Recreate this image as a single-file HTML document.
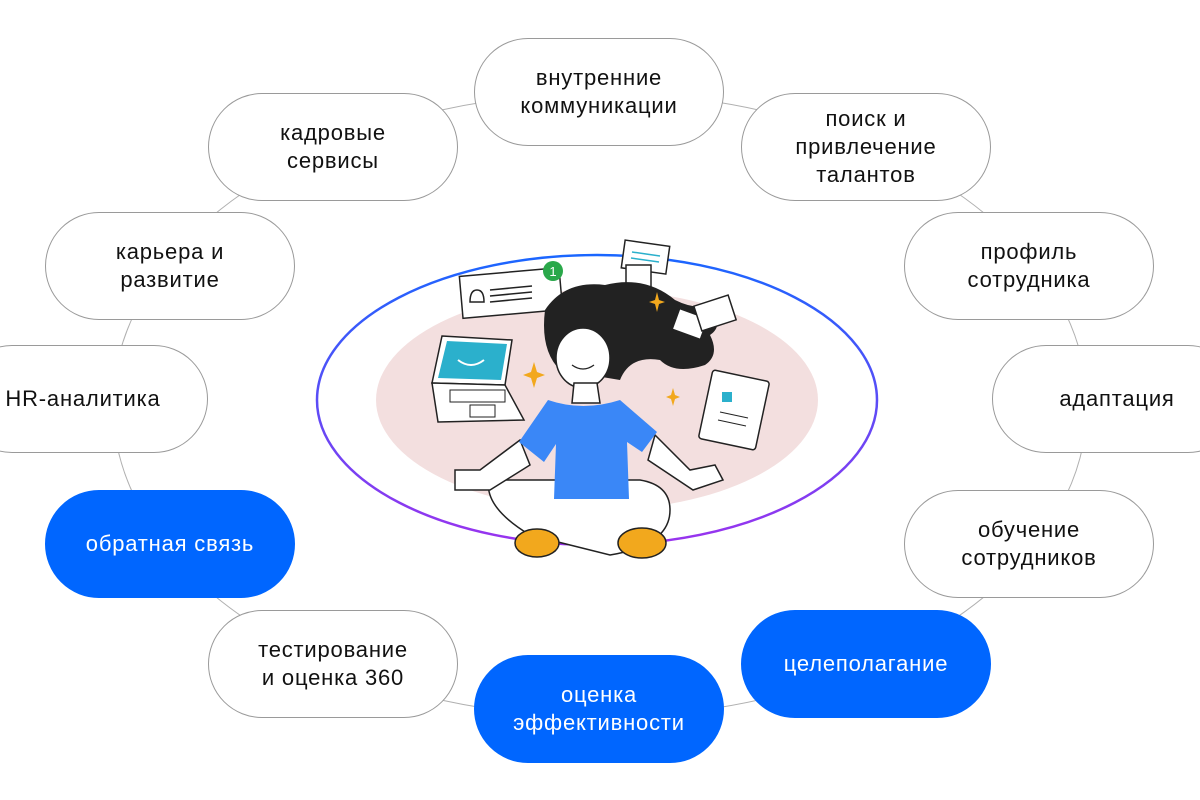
<!DOCTYPE html>
<html><head><meta charset="utf-8"><style>
body{margin:0;width:1200px;height:800px;background:#fff;position:relative;overflow:hidden;font-family:"Liberation Sans",sans-serif}
.p{position:absolute;width:248px;height:106px;border:1px solid #9a9a9a;border-radius:54px;background:#fff;display:flex;align-items:center;justify-content:center;text-align:center;font-size:22px;letter-spacing:0.8px;line-height:28px;color:#111;box-sizing:content-box}
.b{background:#0066ff;border-color:#0066ff;color:#fff}
svg{position:absolute;left:0;top:0}
</style></head><body>
<svg width="1200" height="800">
<defs><linearGradient id="g" x1="0" y1="0" x2="0" y2="1"><stop offset="0" stop-color="#1a66ff"/><stop offset="1" stop-color="#9a33ee"/></linearGradient></defs>
<ellipse cx="600" cy="405" rx="487" ry="312" fill="none" stroke="#b0b0b0" stroke-width="1"/>
<ellipse cx="597" cy="400" rx="280" ry="145" fill="#fff" stroke="url(#g)" stroke-width="2.5"/>
<ellipse cx="597" cy="400" rx="221" ry="110" fill="#f3dfdf"/>
<rect x="461" y="272" width="100" height="42" fill="#fff" stroke="#222" stroke-width="1.5" transform="rotate(-5 511 293)"/>
<line x1="490" y1="290" x2="532" y2="286" stroke="#222" stroke-width="1.5"/><line x1="490" y1="296" x2="532" y2="292" stroke="#222" stroke-width="1.5"/><line x1="490" y1="302" x2="532" y2="298" stroke="#222" stroke-width="1.5"/>
<path d="M470 302 q0-12 7-12 q7 0 7 12z" fill="none" stroke="#222" stroke-width="1.5"/>
<circle cx="553" cy="271" r="10" fill="#2aa84a"/><text x="553" y="276" fill="#fff" font-size="13" text-anchor="middle">1</text>
<rect x="623" y="243" width="45" height="28" fill="#fff" stroke="#222" stroke-width="1.5" transform="rotate(8 645 257)"/>
<line x1="632" y1="252" x2="660" y2="256" stroke="#2bb0cc" stroke-width="1.5"/><line x1="631" y1="258" x2="659" y2="262" stroke="#2bb0cc" stroke-width="1.5"/>
<rect x="626" y="265" width="25" height="25" fill="#fff" stroke="#222" stroke-width="1.5"/>
<path d="M442 336 L512 340 L505 385 L432 383z" fill="#fff" stroke="#222" stroke-width="1.5"/>
<path d="M447 341 L507 344 L501 380 L438 378z" fill="#2bb0cc"/>
<path d="M432 383 L505 385 L524 420 L438 422z" fill="#fff" stroke="#222" stroke-width="1.5"/>
<rect x="450" y="390" width="55" height="12" fill="none" stroke="#222"/><rect x="470" y="405" width="25" height="12" fill="none" stroke="#222"/>
<path d="M458 360 q13 10 26 0" fill="none" stroke="#fff" stroke-width="2"/>
<path d="M545 310 q20-30 60-25 q40-10 70 15 q20 10 35 5 q15 20 0 30 q10 20-5 30 q-30 10-45-5 q-30-5-40 20 l-60 -10 q-20 -20-15-60z" fill="#222"/>
<rect x="675" y="313" width="30" height="22" fill="#fff" stroke="#222" stroke-width="1.5" transform="rotate(20 690 324)"/>
<rect x="697" y="300" width="36" height="26" fill="#fff" stroke="#222" stroke-width="1.5" transform="rotate(-18 715 313)"/>
<ellipse cx="583" cy="358" rx="27" ry="30" fill="#fff" stroke="#222" stroke-width="1.5"/>
<path d="M572 365 q11 8 22 0" fill="none" stroke="#222" stroke-width="1.3"/>
<path d="M574 383 l-2 20 h28 l-3-20z" fill="#fff" stroke="#222" stroke-width="1.5"/>
<rect x="705" y="375" width="58" height="70" rx="3" fill="#fff" stroke="#222" stroke-width="1.5" transform="rotate(12 734 410)"/>
<rect x="722" y="392" width="10" height="10" fill="#2bb0cc"/>
<line x1="720" y1="412" x2="748" y2="418" stroke="#222"/><line x1="718" y1="420" x2="746" y2="426" stroke="#222"/>
<path d="M490 475 q-10 30 40 60 l80 20 q60 -10 60-45 q0-25-30-30 l-140 0z" fill="#fff" stroke="#222" stroke-width="1.5"/>
<path d="M520 440 l-40 30 l-25 0 l0 20 l35 0 l40-25z" fill="#fff" stroke="#222" stroke-width="1.5"/>
<path d="M655 435 l35 35 l25 -5 l8 15 l-30 10 l-45-30z" fill="#fff" stroke="#222" stroke-width="1.5"/>
<path d="M548 400 q35 12 72 0 l37 32 l-15 20 l-15-10 l2 57 h-75 l2-55 l-12 18 l-25-20z" fill="#3a87f7"/>
<ellipse cx="537" cy="543" rx="22" ry="14" fill="#f2a81d" stroke="#222" stroke-width="1.5"/>
<ellipse cx="642" cy="543" rx="24" ry="15" fill="#f2a81d" stroke="#222" stroke-width="1.5"/>
<path d="M534 362 l3 10 l8 3 l-8 3 l-3 10 l-3-10 l-8-3 l8-3z" fill="#f2a81d"/>
<path d="M657 292 l2 8 l6 2 l-6 2 l-2 8 l-2-8 l-6-2 l6-2z" fill="#f2a81d"/>
<path d="M673 388 l2 7 l5 2 l-5 2 l-2 7 l-2-7 l-5-2 l5-2z" fill="#f2a81d"/>
</svg>
<div class="p" style="left:474px;top:38px">внутренние<br>коммуникации</div>
<div class="p" style="left:208px;top:93px">кадровые<br>сервисы</div>
<div class="p" style="left:741px;top:93px">поиск и<br>привлечение<br>талантов</div>
<div class="p" style="left:45px;top:212px">карьера и<br>развитие</div>
<div class="p" style="left:904px;top:212px">профиль<br>сотрудника</div>
<div class="p" style="left:-42px;top:345px">HR-аналитика</div>
<div class="p" style="left:992px;top:345px">адаптация</div>
<div class="p b" style="left:45px;top:490px">обратная связь</div>
<div class="p" style="left:904px;top:490px">обучение<br>сотрудников</div>
<div class="p" style="left:208px;top:610px">тестирование<br>и оценка 360</div>
<div class="p b" style="left:474px;top:655px">оценка<br>эффективности</div>
<div class="p b" style="left:741px;top:610px">целеполагание</div>
</body></html>
